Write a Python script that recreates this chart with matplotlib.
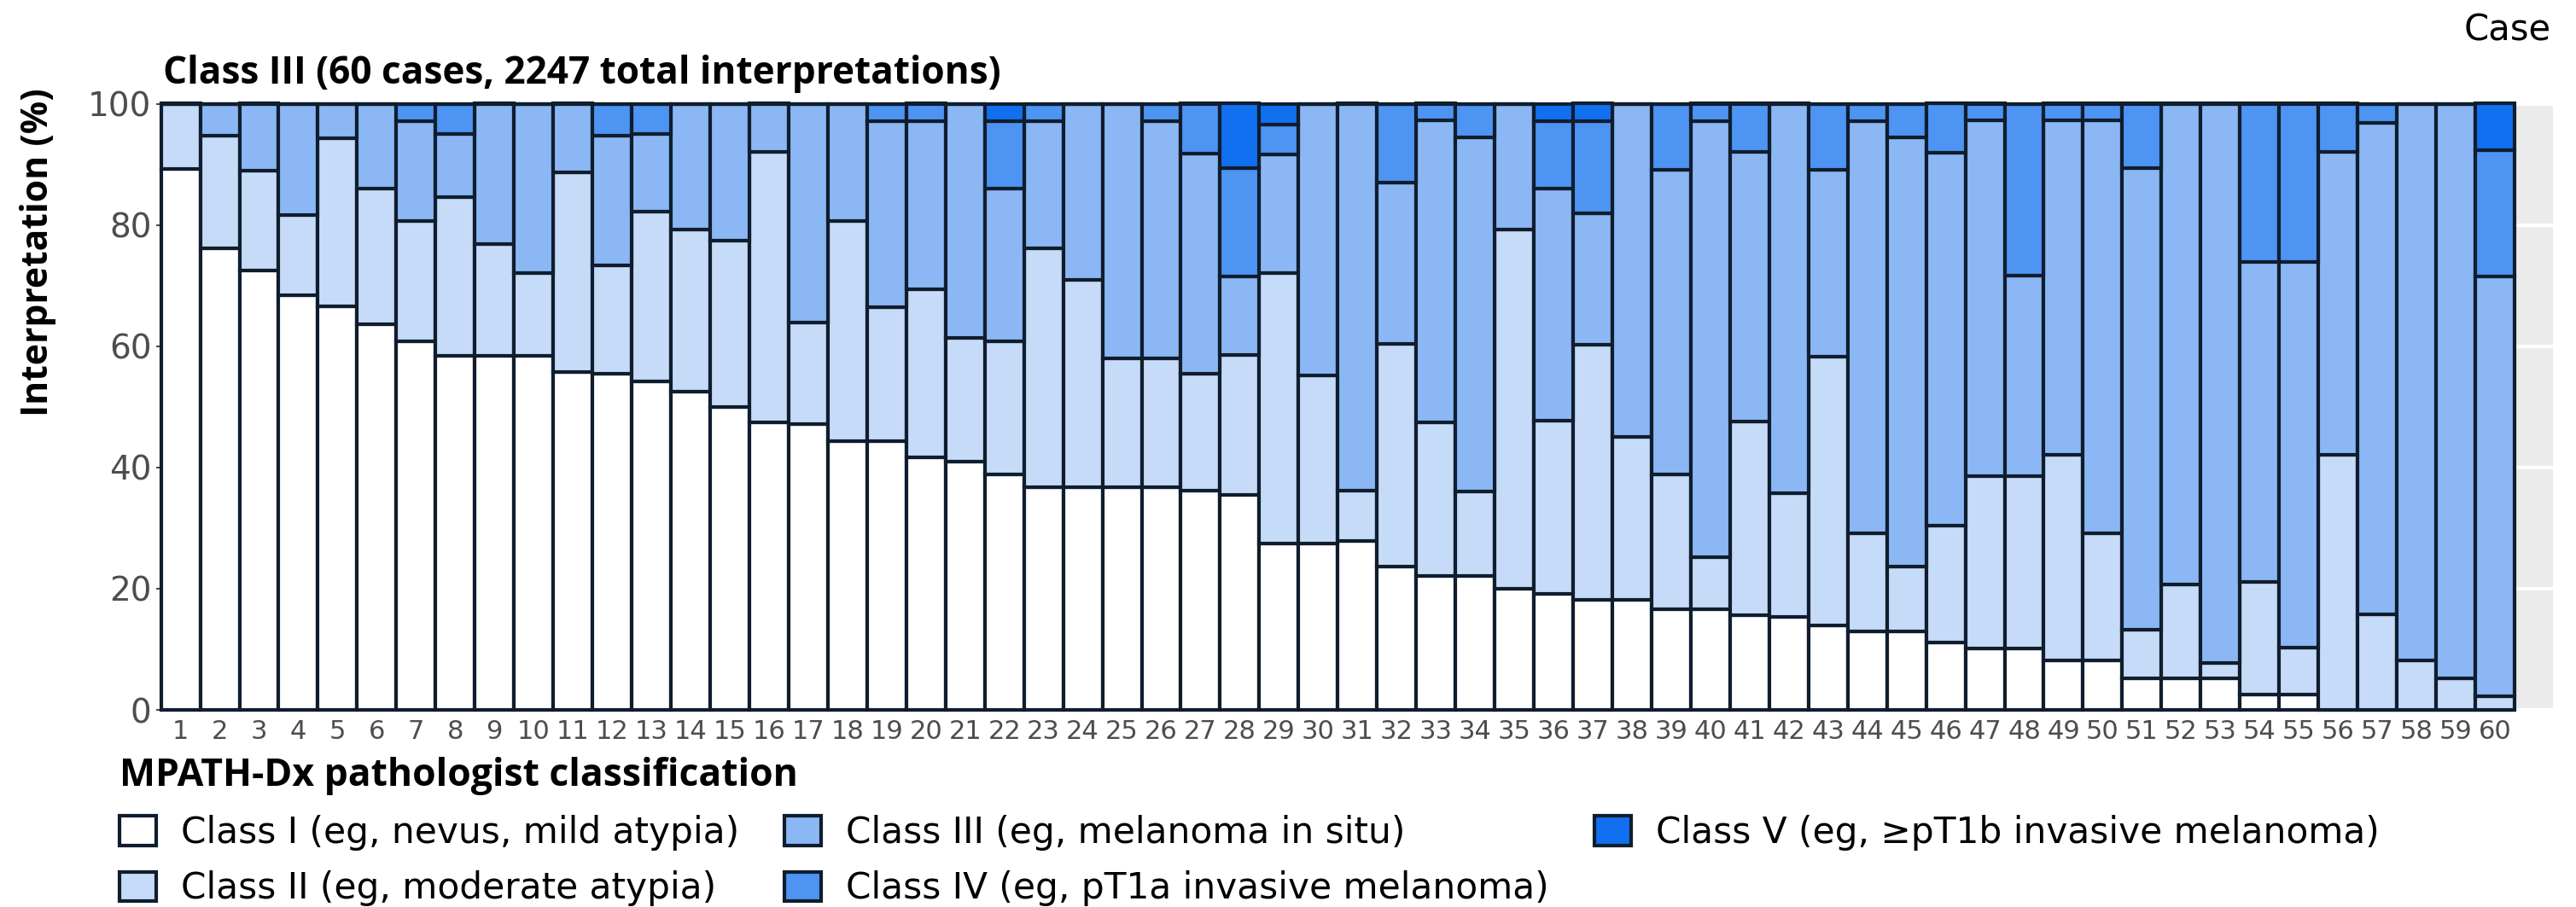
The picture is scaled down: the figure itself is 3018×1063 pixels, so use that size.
import numpy as np
import matplotlib
matplotlib.use("Agg")
from matplotlib import pyplot as plt
from matplotlib.font_manager import FontProperties

plt.rcParams['font.family'] = ['DejaVu Sans']

# share of interpretations (%) per case, one list per MPATH-Dx class
cases = np.arange(1, 61)
class_1 = [89.2, 76.2, 72.5, 68.4, 66.6, 63.6, 60.8, 58.4, 58.4, 58.4,
           55.7, 55.4, 54.2, 52.5, 49.9, 47.4, 47.2, 44.4, 44.4, 41.6,
           41.0, 38.8, 36.8, 36.8, 36.8, 36.8, 36.2, 35.5, 27.5, 27.5,
           27.9, 23.6, 22.1, 22.1, 20.0, 19.1, 18.2, 18.2, 16.6, 16.6,
           15.6, 15.4, 14.0, 13.0, 13.0, 11.1, 10.1, 10.1, 8.1, 8.1,
           5.2, 5.2, 5.2, 2.6, 2.6, 0, 0, 0, 0, 0]
class_2 = [10.8, 18.5, 16.4, 13.3, 27.7, 22.4, 19.9, 26.2, 18.5, 13.7,
           33.0, 17.9, 28.0, 26.7, 27.5, 44.7, 16.7, 36.3, 22.1, 27.8,
           20.4, 22.0, 39.3, 34.2, 21.2, 21.2, 19.2, 23.1, 44.5, 27.7,
           8.3, 36.8, 25.3, 14.0, 59.2, 28.6, 42.0, 26.8, 22.2, 8.6,
           32.0, 20.3, 44.3, 16.1, 10.6, 19.3, 28.5, 28.5, 34.0, 21.0,
           8.0, 15.5, 2.5, 18.5, 7.7, 42.1, 15.7, 8.1, 5.2, 2.3]
class_3 = [0, 5.3, 11.1, 18.3, 5.7, 14.0, 16.4, 10.4, 23.1, 27.9,
           11.3, 21.4, 12.8, 20.8, 22.6, 7.9, 36.1, 19.3, 30.6, 27.7,
           38.6, 25.2, 21.0, 29.0, 42.0, 39.1, 36.4, 12.9, 19.6, 44.8,
           63.8, 26.6, 49.9, 58.4, 20.8, 38.3, 21.7, 55.0, 50.3, 71.9,
           44.5, 64.3, 30.8, 68.0, 70.9, 61.5, 58.7, 33.0, 55.2, 68.2,
           76.2, 79.3, 92.3, 52.8, 63.6, 50.0, 81.2, 91.9, 94.8, 69.2]
class_4 = [0, 0, 0, 0, 0, 0, 2.9, 5.0, 0, 0,
           0, 5.3, 5.0, 0, 0, 0, 0, 0, 2.9, 2.9,
           0, 11.1, 2.9, 0, 0, 2.9, 8.2, 17.9, 5.0, 0,
           0, 13.0, 2.7, 5.5, 0, 11.1, 15.2, 0, 10.9, 2.9,
           7.9, 0, 10.9, 2.9, 5.5, 8.2, 2.7, 28.4, 2.7, 2.7,
           10.6, 0, 0, 26.1, 26.1, 7.9, 3.1, 0, 0, 20.8]
class_5 = [0, 0, 0, 0, 0, 0, 0, 0, 0, 0,
           0, 0, 0, 0, 0, 0, 0, 0, 0, 0,
           0, 2.9, 0, 0, 0, 0, 0, 10.6, 3.4, 0,
           0, 0, 0, 0, 0, 2.9, 2.9, 0, 0, 0,
           0, 0, 0, 0, 0, 0, 0, 0, 0, 0,
           0, 0, 0, 0, 0, 0, 0, 0, 0, 7.7]

labels = ['Class I (eg, nevus, mild atypia)',
          'Class II (eg, moderate atypia)',
          'Class III (eg, melanoma in situ)',
          'Class IV (eg, pT1a invasive melanoma)',
          'Class V (eg, \u2265pT1b invasive melanoma)']
colors = ['#ffffff', '#c6dbf7', '#8bb8f4', '#4e94f2', '#1170f0']
edge = '#0f1d2e'
grey30 = '#4d4d4d'

W, H = 3018, 1063
fig = plt.figure(figsize=(W / 100, H / 100), dpi=100)
renderer = fig.canvas.get_renderer()


def fit_size(text, width_px, **kw):
    # font size (pt) that makes `text` span width_px pixels
    t = fig.text(0, 0, text, fontsize=20, **kw)
    w = t.get_window_extent(renderer).width
    t.remove()
    return 20 * width_px / w


bold = dict(family=['Open Sans', 'DejaVu Sans'], fontweight='bold')

ax = fig.add_axes([188.6 / W, 1 - 832 / H, (2991 - 188.6) / W, (832 - 121.5) / H])

bottom = np.zeros(len(cases))
for vals, col, lab in zip([class_1, class_2, class_3, class_4, class_5], colors, labels):
    vals = np.array(vals)
    ax.bar(cases, vals, bottom=bottom, width=1.0, color=col, edgecolor=edge,
           linewidth=3.0, label=lab, clip_on=False, zorder=3)
    bottom += vals

ax.set_facecolor('#ebebeb')
ax.set_xlim(0.5, 61.48)
ax.set_ylim(0, 100)
ax.set_yticks([0, 20, 40, 60, 80, 100])
ax.set_xticks(cases)
ax.set_xticklabels([str(c) for c in cases])
ax.yaxis.grid(True, color='white', linewidth=3)
ax.set_axisbelow(True)
for s in ax.spines.values():
    s.set_visible(False)
ax.tick_params(axis='x', length=0, pad=8, labelsize=22, labelcolor=grey30)
ax.tick_params(axis='y', length=4, width=1.5, color=grey30, pad=4,
               labelsize=28, labelcolor=grey30)

title = 'Class III (60 cases, 2247 total interpretations)'
fig.text(191 / W, 1 - 98 / H, title, fontsize=fit_size(title, 980, **bold),
         va='baseline', ha='left', **bold)
fig.text(2989 / W, 1 - 47 / H, 'Case', fontsize=fit_size('Case', 102),
         va='baseline', ha='right')
ylab = 'Interpretation (%)'
fig.text(45 / W, 1 - 103 / H, ylab, fontsize=fit_size(ylab, 384, **bold),
         rotation=90, va='top', ha='center', **bold)

leg_title = 'MPATH-Dx pathologist classification'
leg_size = fit_size(labels[0], 653)
fig.legend(loc='upper left', bbox_to_anchor=(140 / W, 1 - 887 / H), ncol=3,
           frameon=False, fontsize=leg_size, title=leg_title,
           title_fontproperties=FontProperties(family=['Open Sans', 'DejaVu Sans'],
                                               weight='bold',
                                               size=fit_size(leg_title, 795, **bold)),
           alignment='left', handlelength=1.02, handleheight=0.88,
           handletextpad=0.69, columnspacing=1.25, labelspacing=0.55,
           borderpad=0, borderaxespad=0)

fig.savefig('out.png', dpi=100)
